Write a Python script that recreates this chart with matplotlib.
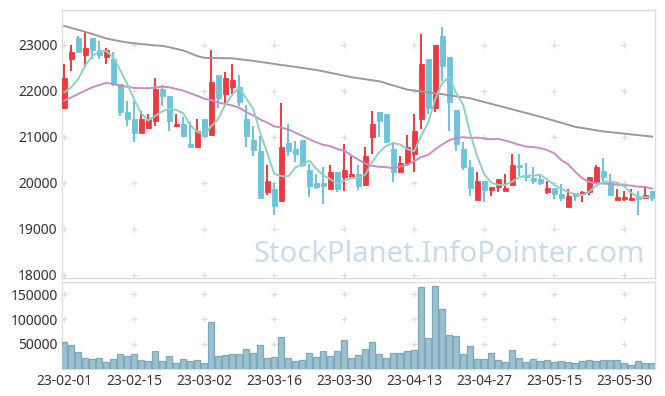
import numpy as np
import pandas as pd
import matplotlib
matplotlib.use("Agg")
import matplotlib.pyplot as plt

# ---------------- data ----------------
dates = ["23-02-01","23-02-02","23-02-03","23-02-06","23-02-07","23-02-08","23-02-09","23-02-10",
         "23-02-13","23-02-14","23-02-15","23-02-16","23-02-17","23-02-20","23-02-21","23-02-22",
         "23-02-23","23-02-24","23-02-27","23-02-28","23-03-02","23-03-03","23-03-06","23-03-07",
         "23-03-08","23-03-09","23-03-10","23-03-13","23-03-14","23-03-15","23-03-16","23-03-17",
         "23-03-20","23-03-21","23-03-22","23-03-23","23-03-24","23-03-27","23-03-28","23-03-29",
         "23-03-30","23-03-31","23-04-03","23-04-04","23-04-05","23-04-06","23-04-07","23-04-10",
         "23-04-11","23-04-12","23-04-13","23-04-14","23-04-17","23-04-18","23-04-19","23-04-20",
         "23-04-21","23-04-24","23-04-25","23-04-26","23-04-27","23-04-28","23-05-02","23-05-03",
         "23-05-04","23-05-08","23-05-09","23-05-10","23-05-11","23-05-12","23-05-15","23-05-16",
         "23-05-17","23-05-18","23-05-19","23-05-22","23-05-23","23-05-24","23-05-25","23-05-26",
         "23-05-30","23-05-31","23-06-01","23-06-02","23-06-05"]

opens = [21623,22688,23159,22775,23152,22898,22732,22695,22152,21551,
         21391,21080,21195,21340,22043,21898,21232,21282,20855,20775,
         21391,21043,22348,21927,22079,22094,21391,20942,20703,19797,
         19870,19601,20862,20739,20935,20290,20000,20000,19870,20246,
         20123,20123,20196,19956,20993,21551,21500,20739,20232,20435,
         20630,21391,22695,21623,23203,22732,21594,20739,20355,19630,
         20051,19855,19906,19819,19956,20391,20174,20102,20087,19797,
         19884,19761,19471,19783,19761,19812,20029,20253,20051,19630,
         19652,19630,19688,19667,19833]
highs = [22587,23007,23203,23275,23152,23094,22927,22840,22152,21790,
         21790,21572,21500,22282,22130,21898,21500,21427,21319,21391,
         21391,22898,22348,22406,22587,22348,21695,21246,21029,20391,
         20000,21739,21282,20920,20935,20413,20196,20340,20391,20246,
         20848,20580,20391,20775,21572,21551,21500,20884,20594,21043,
         21500,23239,22695,23000,23384,22732,21594,20884,20507,20232,
         20051,19913,20087,20196,20630,20630,20435,20341,20174,20051,
         19884,19978,19869,19783,19833,20123,20391,20536,20196,19869,
         19833,19869,19833,19927,19833]
lows = [21600,22442,22840,22514,22695,22695,22587,22101,21464,21232,
        20898,21080,21195,21246,21681,21130,21210,20993,20775,20775,
        21029,21043,21623,21717,21935,21681,20775,20580,19681,19739,
        19304,19601,20580,20449,20340,19703,19870,19543,19870,19797,
        19833,20123,19855,19956,20630,20993,20884,20014,20232,20391,
        20232,21174,21500,21551,22224,21137,20703,20290,19710,19630,
        19594,19724,19797,19819,19956,20145,20051,19978,19956,19761,
        19652,19616,19471,19616,19594,19739,20029,20051,19739,19630,
        19616,19630,19304,19667,19601]
closes = [22290,22855,22840,22935,22884,22775,22898,22152,21536,21391,
          21080,21391,21391,22043,21884,21340,21282,21029,20775,21130,
          21029,22203,21840,22290,22246,21768,21029,20724,19681,20051,
          19507,20790,20688,20630,20391,19942,19906,19942,20246,19870,
          20290,20196,19927,20594,21282,21340,20884,20232,20435,20775,
          21130,22587,21623,23000,22536,21768,20841,20340,19884,20051,
          19848,19913,20087,19891,20391,20340,20123,20036,20000,19884,
          19761,19674,19724,19710,19812,20123,20340,20123,19739,19703,
          19703,19667,19652,19739,19674]
volumes = [53300,47300,33900,21100,19100,21100,13100,19100,29200,25200,
           29200,17100,15100,35200,15100,25200,11100,19100,15100,17100,
           11100,93600,25200,27200,29200,29200,39300,31200,47300,21100,
           23100,63400,21100,15100,17100,31200,23100,35200,25200,35200,
           57400,21100,27200,39300,53300,29200,21100,31200,31200,35200,
           37200,164000,61400,166000,119800,67400,65400,29200,45300,19100,
           19100,31200,17100,13100,37200,21100,13100,19100,15100,17100,
           13100,15100,13100,11100,15100,17100,15100,17100,17100,17100,
           11100,7000,15100,11100,11100]

ma5_head = [21970, 22080, 22260, 22560]
ma20_head = [21790, 21860, 21935, 22010, 22080, 22130, 22174, 22152, 22116, 22090,
             22065, 22060, 22058, 22075, 22094, 22080, 22043, 22007, 21949]
ma_long = [23413,23370,23330,23285,23240,23190,23140,23110,23080,23055,
           23037,23020,23005,22990,22980,22950,22915,22880,22820,22760,
           22720,22716,22714,22712,22710,22690,22672,22655,22632,22610,
           22588,22565,22545,22524,22500,22478,22457,22426,22395,22363,
           22332,22300,22278,22255,22232,22210,22165,22120,22075,22030,
           22010,21990,21970,21950,21930,21908,21885,21862,21840,21800,
           21760,21720,21680,21640,21600,21560,21520,21480,21440,21396,
           21352,21308,21264,21220,21195,21170,21145,21120,21104,21088,
           21072,21055,21040,21023,21007]

price_ticks = [18000, 19000, 20000, 21000, 22000, 23000]
vol_ticks = [50000, 100000, 150000]
label_every = 10

# ---------------- derived ----------------
n = len(closes)
x = np.arange(n)
cs = pd.Series(closes, dtype=float)
ma5 = cs.rolling(5).mean().to_numpy()
ma5[:len(ma5_head)] = ma5_head
ma20 = cs.rolling(20).mean().to_numpy()
ma20[:len(ma20_head)] = ma20_head

UP = "#ee3a3f"
DOWN = "#6cc3db"
SPINE = "#dedede"
TXT = "#333333"
FONT = "Noto Sans"

fig = plt.figure(figsize=(6.65, 3.96), dpi=100)
W, H = 665, 396
def rect(l, t, r, b):
    return [l / W, 1 - b / H, (r - l) / W, (b - t) / H]

ax = fig.add_axes(rect(61.7, 10, 655, 277.7))
axv = fig.add_axes(rect(61.7, 282, 655, 368.5))

xlim = (-0.37, 84.4)

# ----- main price panel -----
ups = np.array(closes) >= np.array(opens)
for i in range(n):
    col = UP if ups[i] else DOWN
    ax.vlines(x[i], lows[i], highs[i], color=col, linewidth=1.4, zorder=3)
    lo = min(opens[i], closes[i])
    hgt = max(abs(closes[i] - opens[i]), 15)
    ax.bar(x[i], hgt, bottom=lo, width=0.72, color=col, edgecolor=col,
           linewidth=0.6, zorder=4)

ax.plot(x, ma_long, color="#9a9a9a", linewidth=1.4, zorder=5)
ax.plot(x, ma20, color="#c98cc6", linewidth=1.4, zorder=5)
ax.plot(x, ma5, color="#8fcfc6", linewidth=1.4, zorder=5)

ax.set_xlim(*xlim)
ax.set_ylim(17940, 23760)
ax.set_yticks(price_ticks)
ax.set_yticklabels([str(t) for t in price_ticks], fontsize=10, color=TXT, family=FONT)
ax.set_xticks([])

# grid "+" markers
gx = x[::label_every]
for gy in price_ticks:
    ax.scatter(gx, [gy] * len(gx), marker="+", s=22, color="#dcdcdc",
               linewidths=0.9, zorder=1)

ax.text(0.983, 0.085, "StockPlanet.InfoPointer.com", transform=ax.transAxes,
        ha="right", va="center", fontsize=21, color="#c9dbe9", family=FONT,
        zorder=2)

# ----- volume panel -----
axv.bar(x, volumes, width=0.86, color="#9bc0cf", edgecolor="#7ea8bb",
        linewidth=0.9, zorder=3)
axv.set_xlim(*xlim)
axv.set_ylim(0, 175000)
axv.set_yticks(vol_ticks)
axv.set_yticklabels([str(t) for t in vol_ticks], fontsize=10, color=TXT, family=FONT)
axv.set_xticks(gx)
axv.set_xticklabels([dates[i] for i in gx], fontsize=10, color=TXT, family=FONT)
for gy in vol_ticks:
    axv.scatter(gx, [gy] * len(gx), marker="+", s=22, color="#dcdcdc",
                linewidths=0.9, zorder=1)

for a in (ax, axv):
    for s in a.spines.values():
        s.set_color(SPINE)
        s.set_linewidth(1.0)
    a.tick_params(axis="both", length=0, pad=3)
    a.set_facecolor("white")
axv.tick_params(axis="x", pad=4)

fig.savefig("out.png", dpi=100, facecolor="white")
